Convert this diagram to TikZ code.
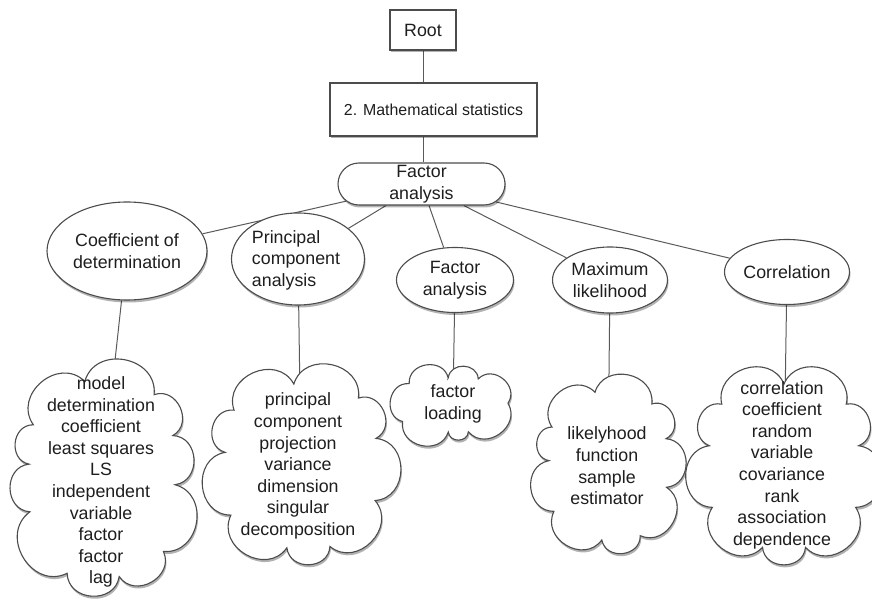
\documentclass[tikz,border=0pt]{standalone}
\usepackage{fontspec}
\setmainfont{Liberation Sans}
\usetikzlibrary{shapes.geometric,shapes.misc,shadows,backgrounds,calc}

\definecolor{edgegray}{HTML}{4C4C4C}
\definecolor{linkgray}{HTML}{5A5A5A}
\definecolor{inkgray}{HTML}{1E1E1E}

\tikzset{
  declare function={
    % radius of a boxy (superelliptic) outline with half axes a, b in direction t
    supr(\t,\a,\b)=\a/((abs(cos(\t)))^3+(\a*abs(sin(\t))/\b)^3)^(1/3);
  },
  softshadow/.style={drop shadow={shadow xshift=1pt, shadow yshift=-2.5pt, opacity=0.3, fill=black}},
  labelfont/.style={text=inkgray, font=\fontsize{17.8}{21.6}\selectfont},
  boxnode/.style={draw=edgegray, line width=1.1pt, fill=white, inner sep=0pt, softshadow,
    labelfont, align=center},
  ovalnode/.style={ellipse, draw=edgegray, line width=1.1pt, fill=white, inner sep=0pt, softshadow,
    labelfont, align=center},
  cloudcore/.style={ellipse, draw=none, inner sep=0pt},
  cloudline/.style={draw=edgegray, line width=1.1pt, fill=white, softshadow},
  cloudtext/.style={labelfont, align=center, inner sep=0pt},
  link/.style={draw=linkgray, line width=1pt},
}

% puffy outline around a centre node
% #1 node, #2 puffs, #3 start angle, #4 #5 half axes of the cusp line
\newcommand{\drawpuffs}[5]{%
  \pgfmathsetmacro{\puffstep}{360/#2}%
  \draw[cloudline] ($(#1)+({supr(#3,#4,#5)*cos(#3)},{supr(#3,#4,#5)*sin(#3)})$)
    \foreach \k [evaluate=\k as \ang using {#3+\k*\puffstep+6*sin(3*\k*\puffstep)}] in {1,...,#2} {
      to[out=0, in=180, bend left=85, looseness=1.4] ($(#1)+({supr(\ang,#4,#5)*cos(\ang)},{supr(\ang,#4,#5)*sin(\ang)})$)
    } -- cycle;
}

\begin{document}
\begin{tikzpicture}[x=1pt,y=-1pt]
\useasboundingbox (0,0) rectangle (872,609);

% header boxes
\node[boxnode, minimum width=66pt, minimum height=40pt] (root) at (423,30) {Root};
\node[boxnode, minimum width=207pt, minimum height=53pt, font=\fontsize{15.9}{19}\selectfont] (math) at (433.5,109.5) {2. Mathematical statistics};
\node[boxnode, rounded rectangle, minimum width=167pt, minimum height=42pt] (fa) at (421.5,184) {Factor\\analysis};

% second level topics
\node[ovalnode, minimum width=160pt, minimum height=98pt] (coef) at (127,251) {Coefficient of\\determination};
\node[ovalnode, minimum width=133pt, minimum height=92pt] (pca) at (298,259) {};
\node[labelfont, align=left, inner sep=0pt] (pcatext) at (296,260) {Principal\\component\\analysis};
\node[ovalnode, minimum width=117pt, minimum height=65pt] (fa2) at (455,280) {Factor\\analysis};
\node[ovalnode, minimum width=115pt, minimum height=66pt] (ml) at (610,280) {Maximum\\likelihood};
\node[ovalnode, minimum width=125pt, minimum height=65pt] (corr) at (787,272) {Correlation};

% keyword clouds
\node[cloudcore, minimum width=146pt, minimum height=196pt] (c1) at (102,479) {};
\node[cloudcore, minimum width=152pt, minimum height=164pt] (c2) at (301,466) {};
\node[cloudcore, minimum width=110pt, minimum height=54pt] (c3) at (453,405) {};
\node[cloudcore, minimum width=118pt, minimum height=148pt] (c4) at (608,466) {};
\node[cloudcore, minimum width=150pt, minimum height=164pt] (c5) at (784,466) {};

\drawpuffs{c1}{10}{-100}{73}{98}
\drawpuffs{c2}{9}{-95}{76}{82}
\drawpuffs{c3}{7}{-100}{55}{27}
\drawpuffs{c4}{9}{-100}{59}{74}
\drawpuffs{c5}{9}{-90}{75}{82}

\node[cloudtext] (t1) at (101,482) {model\\determination\\coefficient\\least squares\\LS\\independent\\variable\\factor\\factor\\lag};
\node[cloudtext] (t2) at (298,466) {principal\\component\\projection\\variance\\dimension\\singular\\decomposition};
\node[cloudtext] (t3) at (453,404) {factor\\loading};
\node[cloudtext] (t4) at (607,466) {likelyhood\\function\\sample\\estimator};
\node[cloudtext] (t5) at (782,465) {correlation\\coefficient\\random\\variable\\covariance\\rank\\association\\dependence};

% connectors
\begin{scope}[on background layer]
  \draw[link] (root) -- (root |- math.north);
  \draw[link] (math.south -| root) -- (root |- fa.north);
  \draw[link] (fa) -- (coef);
  \draw[link] (fa) -- (pca);
  \draw[link] (fa) -- (fa2);
  \draw[link] (fa) -- (ml);
  \draw[link] (fa) -- (corr);
  \draw[link] (coef) -- (c1);
  \draw[link] (pca) -- (c2);
  \draw[link] (fa2) -- (c3);
  \draw[link] (ml) -- (c4);
  \draw[link] (corr) -- (c5);
\end{scope}
\end{tikzpicture}
\end{document}
